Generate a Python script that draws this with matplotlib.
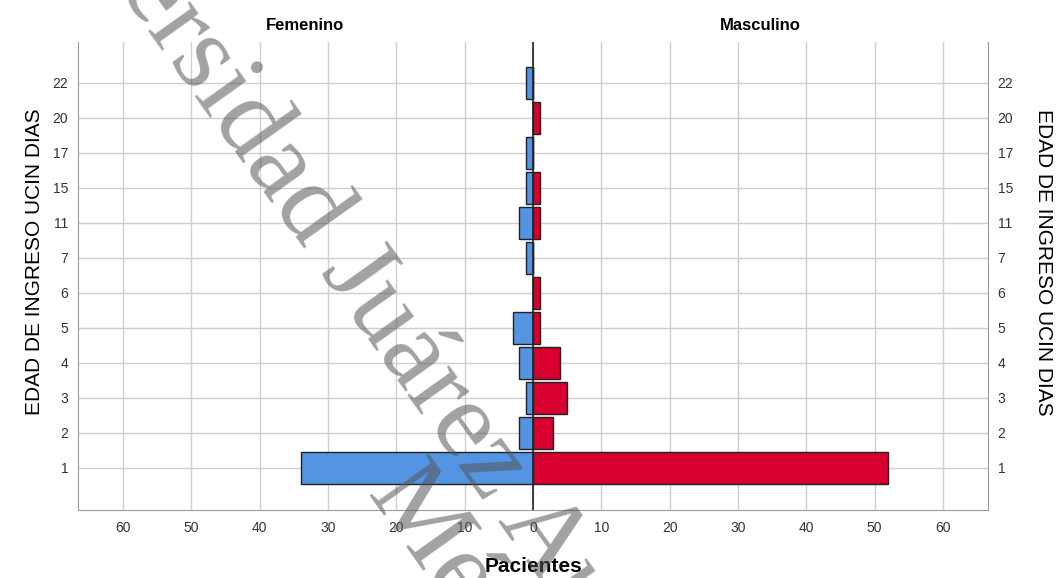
import numpy as np
import matplotlib.pyplot as plt
from matplotlib import font_manager

# Data
edad = ['1', '2', '3', '4', '5', '6', '7', '11', '15', '17', '20', '22']
femenino = [34, 2, 1, 2, 3, 0, 1, 2, 1, 1, 0, 1]
masculino = [52, 3, 5, 4, 1, 1, 0, 1, 1, 0, 1, 0]
x_ticks = [-60, -50, -40, -30, -20, -10, 0, 10, 20, 30, 40, 50, 60]

names = {f.name for f in font_manager.fontManager.ttflist}
narrow = 'Liberation Sans Narrow' if 'Liberation Sans Narrow' in names else 'Liberation Sans'

fig = plt.figure(figsize=(10.58, 5.78), dpi=100)
ax = fig.add_axes([78 / 1058, 1 - 510 / 578, 910 / 1058, 468 / 578])

y = np.arange(len(edad))
blue = '#5394e3'
red = '#d7002e'
ax.barh(y, -np.array(femenino), height=0.9, color=blue, edgecolor='#222222', linewidth=1, zorder=3)
ax.barh(y, masculino, height=0.9, color=red, edgecolor='#222222', linewidth=1, zorder=3)

ax.axvline(0, color='#222222', lw=1.2, zorder=4)

ax.set_xlim(-66.6, 66.6)
ax.set_ylim(-1.2, len(edad) - 1 + 1.17)

ax.set_xticks(x_ticks)
ax.set_xticklabels([str(abs(v)) for v in x_ticks], fontfamily=narrow, fontsize=10)
ax.set_yticks(y)
ax.set_yticklabels(edad, fontfamily=narrow, fontsize=10)
ax.tick_params(axis='x', length=0, pad=8)
ax.tick_params(axis='y', length=0, pad=7, labelright=True, right=True)
ax.tick_params(axis='y', which='major', colors='#333333')
ax.tick_params(axis='x', colors='#333333')

ax.grid(True, color='#cfcfcf', lw=1, zorder=0)
ax.set_axisbelow(True)
for s in ['left', 'bottom', 'right']:
    ax.spines[s].set_color('#9a9a9a')
ax.spines['top'].set_visible(False)

# panel titles
fig.text(305 / 1058, 1 - 25 / 578, 'Femenino', ha='center', va='center',
         fontfamily=narrow, fontweight='bold', fontsize=12)
fig.text(760 / 1058, 1 - 25 / 578, 'Masculino', ha='center', va='center',
         fontfamily=narrow, fontweight='bold', fontsize=12)

fig.text(533 / 1058, 1 - 567 / 578, 'Pacientes', ha='center', va='center',
         fontfamily=narrow, fontweight='bold', fontsize=15)
fig.text(35 / 1058, 1 - 262 / 578, 'EDAD DE INGRESO UCIN DIAS', ha='center', va='center',
         rotation=90, fontfamily='Liberation Sans', fontsize=15)
fig.text(1043 / 1058, 1 - 262 / 578, 'EDAD DE INGRESO UCIN DIAS', ha='center', va='center',
         rotation=270, fontfamily='Liberation Sans', fontsize=15)

# watermark
wm = dict(fontfamily='Liberation Serif', fontsize=80, color='#555555', alpha=0.55,
          rotation=-54.5, rotation_mode='anchor', zorder=10)
fig.text(320 / 1058, 1 - 272 / 578, 'Universidad ', ha='right', va='baseline', **wm)
fig.text(320 / 1058, 1 - 272 / 578, 'Juárez Autónoma de Tabasco.', ha='left', va='baseline', **wm)
fig.text(365 / 1058, 1 - 495 / 578, 'México.', ha='left', va='baseline', **wm)

fig.savefig('out.png', dpi=100)
